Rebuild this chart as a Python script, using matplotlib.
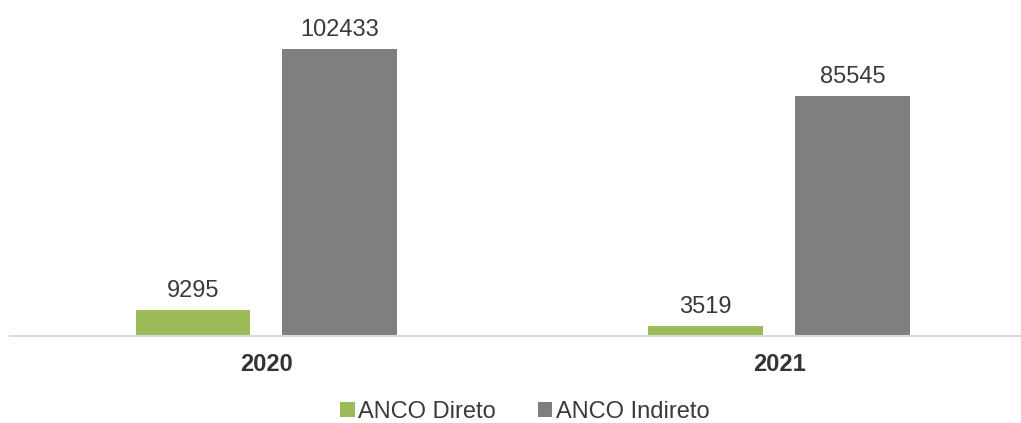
import matplotlib.pyplot as plt
import numpy as np

years = ['2020', '2021']
direto = [9295, 3519]
indireto = [102433, 85545]

plt.rcParams['font.family'] = ['Liberation Sans', 'DejaVu Sans']

fig = plt.figure(figsize=(10.21, 4.23), dpi=100)
ax = fig.add_axes([10 / 1021, 1 - 336 / 423, 1011 / 1021, 316 / 423])

x = np.arange(len(years))
w = 0.224
off = 0.143
b1 = ax.bar(x - off, direto, w, color='#9bbb59', label='ANCO Direto')
b2 = ax.bar(x + off, indireto, w, color='#7f7f7f', label='ANCO Indireto')

for bars in (b1, b2):
    for rect in bars:
        h = rect.get_height()
        ax.annotate(str(int(h)), (rect.get_x() + rect.get_width() / 2, h),
                    xytext=(0, 6), textcoords='offset points',
                    ha='center', va='bottom', fontsize=17, color='#3a3a3a')

ax.set_xlim(-0.5, 1.472)
ax.set_ylim(0, 112800)
ax.set_xticks(x)
ax.set_xticklabels(years, fontsize=17, fontweight='bold', color='#333333')
ax.tick_params(axis='x', length=0, pad=12)
ax.set_yticks([])
for s in ['top', 'right', 'left']:
    ax.spines[s].set_visible(False)
ax.spines['bottom'].set_color('#d9d9d9')
ax.spines['bottom'].set_linewidth(1.5)

fig.legend(handles=[b1, b2], loc='center', bbox_to_anchor=(525 / 1021, 1 - 412 / 423),
           ncol=2, frameon=False, fontsize=17, handlelength=0.6, handleheight=0.6,
           handletextpad=0.15, columnspacing=1.8, labelcolor='#3a3a3a')

fig.savefig('out.png', dpi=100)
